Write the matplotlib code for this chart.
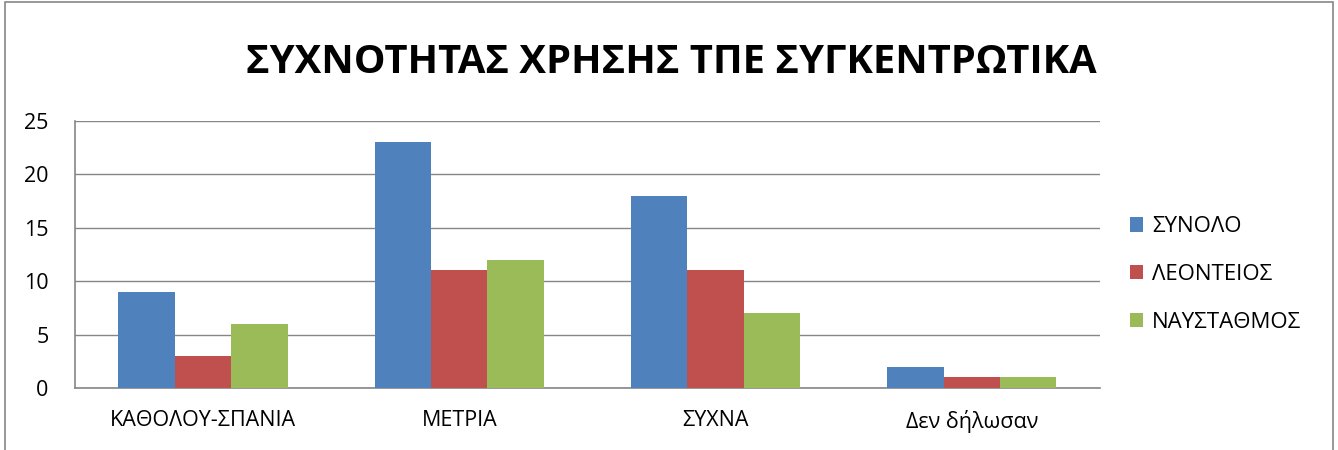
import matplotlib
matplotlib.use('Agg')
import matplotlib.pyplot as plt
import numpy as np
from matplotlib.patches import Rectangle

plt.rcParams['font.family'] = ['Open Sans', 'DejaVu Sans']

categories = ['ΚΑΘΟΛΟΥ-ΣΠΑΝΙΑ', 'ΜΕΤΡΙΑ', 'ΣΥΧΝΑ', 'Δεν δήλωσαν']
series_names = ['ΣΥΝΟΛΟ', 'ΛΕΟΝΤΕΙΟΣ', 'ΝΑΥΣΤΑΘΜΟΣ']
synolo = [9, 23, 18, 2]
leonteios = [3, 11, 11, 1]
naustathmos = [6, 12, 7, 1]
colors = ['#4F81BD', '#C0504D', '#9BBB59']

fig = plt.figure(figsize=(13.38, 4.5), dpi=100)
ax = fig.add_axes([0.056, 0.138, 0.766, 0.593])

x = np.arange(len(categories))
w = 0.22
for i, (vals, name) in enumerate(zip([synolo, leonteios, naustathmos], series_names)):
    ax.bar(x + (i - 1) * w, vals, w, color=colors[i], label=name, zorder=3)

ax.set_xlim(-0.5, 3.5)
ax.set_ylim(0, 25)
ax.set_yticks(range(0, 26, 5))
ax.set_xticks(x)
ax.set_xticklabels(categories)
ax.tick_params(axis='both', length=0, labelsize=15.5, colors='black')
ax.tick_params(axis='y', pad=19)
ax.tick_params(axis='x', pad=16)
ax.grid(axis='y', color='#868686', linewidth=1, zorder=0)
for s in ['top', 'right']:
    ax.spines[s].set_visible(False)
for s in ['left', 'bottom']:
    ax.spines[s].set_color('#868686')
    ax.spines[s].set_linewidth(1.2)

fig.text(0.502, 0.862, 'ΣΥΧΝΟΤΗΤΑΣ ΧΡΗΣΗΣ ΤΠΕ ΣΥΓΚΕΝΤΡΩΤΙΚΑ', ha='center', va='center',
         fontsize=28.7, fontweight='bold')

ax.legend(loc='center left', bbox_to_anchor=(1.01, 0.425), frameon=False, fontsize=16,
          handlelength=0.6, handleheight=0.6, labelspacing=1.2, handletextpad=0.4)

fig.patches.append(Rectangle((0.004, -0.05), 0.992, 1.045, transform=fig.transFigure,
                             fill=False, edgecolor='#868686', linewidth=1.2))

fig.savefig('out.png', dpi=100)
